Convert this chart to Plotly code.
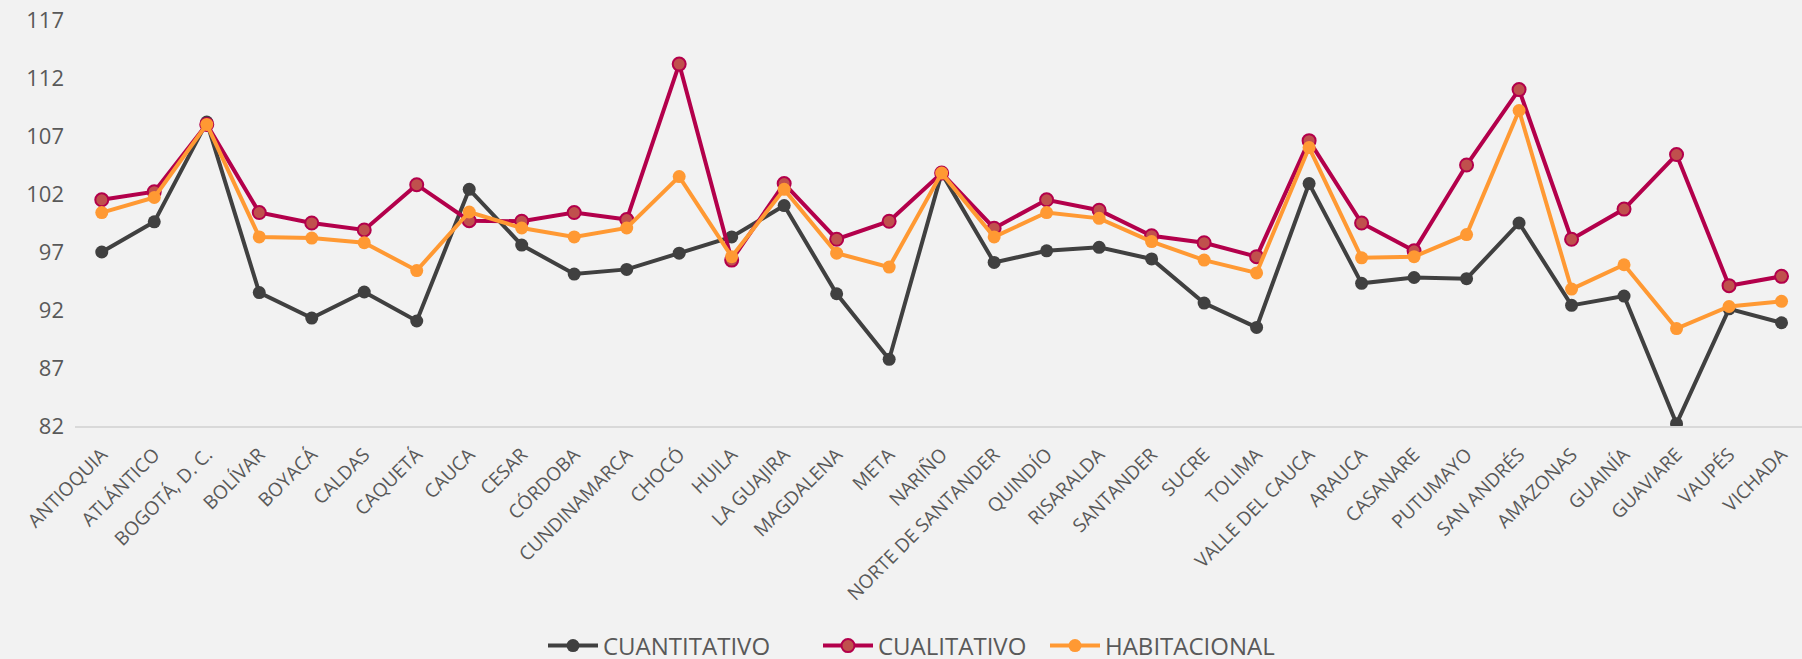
import plotly.graph_objects as go

categories = ["ANTIOQUIA", "ATLÁNTICO", "BOGOTÁ, D. C.", "BOLÍVAR", "BOYACÁ", "CALDAS",
              "CAQUETÁ", "CAUCA", "CESAR", "CÓRDOBA", "CUNDINAMARCA", "CHOCÓ", "HUILA",
              "LA GUAJIRA", "MAGDALENA", "META", "NARIÑO", "NORTE DE SANTANDER", "QUINDÍO",
              "RISARALDA", "SANTANDER", "SUCRE", "TOLIMA", "VALLE DEL CAUCA", "ARAUCA",
              "CASANARE", "PUTUMAYO", "SAN ANDRÉS", "AMAZONAS", "GUAINÍA", "GUAVIARE",
              "VAUPÉS", "VICHADA"]

cuantitativo = [97.0, 99.6, 108.2, 93.5, 91.3, 93.55, 91.05, 102.4, 97.6, 95.1, 95.5, 96.9, 98.3,
                101.0, 93.4, 87.75, 103.8, 96.1, 97.1, 97.4, 96.4, 92.6, 90.5, 102.9, 94.3,
                94.8, 94.7, 99.5, 92.4, 93.2, 82.2, 92.1, 90.9]

cualitativo = [101.5, 102.2, 108.0, 100.4, 99.5, 98.9, 102.8, 99.7, 99.65, 100.4, 99.8, 113.2, 96.3,
               102.9, 98.1, 99.65, 103.8, 99.05, 101.5, 100.6, 98.4, 97.8, 96.6, 106.6, 99.5,
               97.1, 104.5, 111.0, 98.1, 100.7, 105.4, 94.1, 94.9]

habitacional = [100.4, 101.7, 108.0, 98.3, 98.2, 97.8, 95.4, 100.45, 99.07, 98.3, 99.07, 103.5, 96.6,
                102.4, 96.9, 95.7, 103.8, 98.3, 100.4, 99.9, 97.9, 96.3, 95.2, 106.0, 96.5,
                96.6, 98.5, 109.2, 93.8, 95.9, 90.4, 92.3, 92.75]

y_ticks = [82, 87, 92, 97, 102, 107, 112, 117]

fig = go.Figure()
fig.add_trace(go.Scatter(
    x=categories, y=cuantitativo, name="CUANTITATIVO", mode="lines+markers",
    line=dict(color="#404040", width=4),
    marker=dict(color="#404040", size=13, line=dict(width=0)),
    legend="legend",
))
fig.add_trace(go.Scatter(
    x=categories, y=cualitativo, name="CUALITATIVO", mode="lines+markers",
    line=dict(color="#B3004B", width=4),
    marker=dict(color="#C0504D", size=13, line=dict(color="#B3004B", width=2)),
    legend="legend2",
))
fig.add_trace(go.Scatter(
    x=categories, y=habitacional, name="HABITACIONAL", mode="lines+markers",
    line=dict(color="#FF9933", width=4),
    marker=dict(color="#FF9933", size=13, line=dict(width=0)),
    legend="legend3",
))

W, H, L, T = 1802, 672, 75, 20
PLOT_BOTTOM = 426
B = H - PLOT_BOTTOM
PW = W - L
PH = PLOT_BOTTOM - T
leg_y = -(646 - PLOT_BOTTOM) / PH
leg_common = dict(orientation="h", xref="paper", xanchor="left", y=leg_y, yanchor="middle",
                  font=dict(size=24, color="#595959"), bgcolor="rgba(0,0,0,0)", itemwidth=50)

fig.update_layout(
    width=W, height=H,
    paper_bgcolor="#F2F2F2", plot_bgcolor="#F2F2F2",
    margin=dict(l=L, r=0, t=T, b=B),
    font=dict(family="Open Sans", color="#595959"),
    showlegend=True,
    legend=dict(x=(543 - L) / PW, **leg_common),
    legend2=dict(x=(818 - L) / PW, **leg_common),
    legend3=dict(x=(1045 - L) / PW, **leg_common),
)
fig.update_xaxes(
    type="category", range=[-0.51, 32.39], tickangle=-45, showgrid=False, showline=True,
    automargin=False, linecolor="#D9D9D9", linewidth=2, ticks="",
    tickfont=dict(size=19, color="#595959"), ticklabelstandoff=8, zeroline=False,
)
fig.update_yaxes(
    range=[82, 117], tickvals=y_ticks, showgrid=False, zeroline=False, showline=False,
    automargin=False, ticks="", tickfont=dict(size=22, color="#595959"), ticklabelstandoff=10,
)

fig.write_html(
    "out.html", config={"displayModeBar": False},
    post_script=("document.body.style.margin='0';"
                 "document.body.style.overflow='hidden';"
                 "document.documentElement.style.overflow='hidden';"),
)
